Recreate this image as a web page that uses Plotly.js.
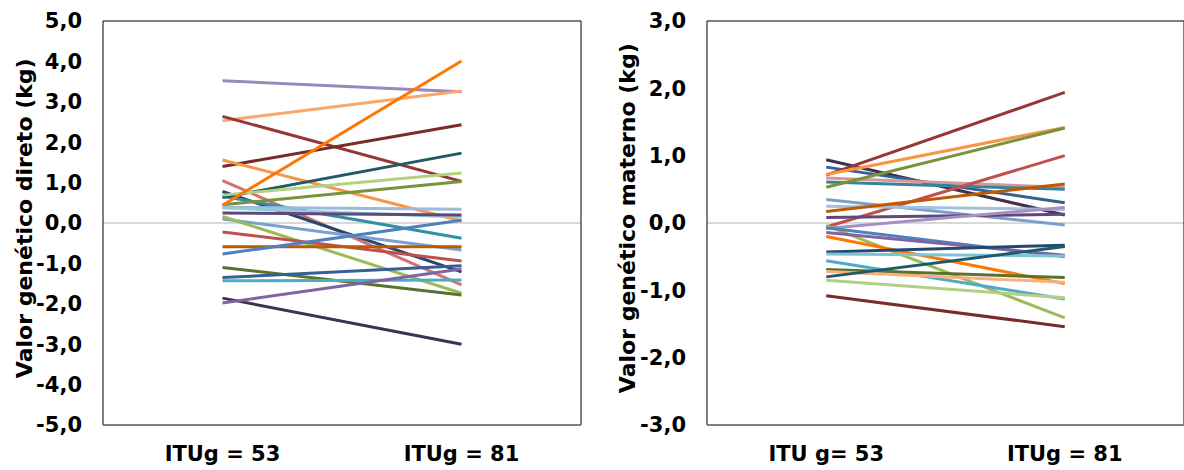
<!DOCTYPE html>
<html>
<head>
<meta charset="utf-8">
<script src="https://cdn.plot.ly/plotly-3.0.1.min.js"></script>
<style>html,body{margin:0;padding:0;background:#fff;overflow:hidden}#chart{width:1184px;height:470px}</style>
</head>
<body>
<div id="chart"></div>
<script>
// ---- data ----
const directCategories = ['ITUg = 53', 'ITUg = 81'];
const maternalCategories = ['ITU g= 53', 'ITUg = 81'];
const directStart = [3.52, 2.53, 2.64, 1.40, 1.56, 1.05, 0.78, 0.66, 0.63, 0.69, 0.45, 0.44, 0.39, 0.37, 0.25, 0.10, 0.16, -0.22, -0.59, -0.77, -1.10, -1.35, -1.43, -1.86, -1.98];
const directEnd   = [3.25, 3.27, 1.03, 2.43, 0.05, -1.53, -1.21, -0.38, 1.73, 1.24, 1.03, 4.01, 0.34, 0.15, 0.20, -0.67, -1.74, -0.94, -0.59, 0.07, -1.78, -1.06, -1.41, -3.00, -1.14];
const maternalStart = [0.94, 0.83, 0.71, 0.72, 0.67, 0.61, 0.53, -0.06, 0.35, 0.25, 0.17, 0.08, -0.08, -0.04, -0.07, -0.14, -0.20, -0.43, -0.46, -0.56, -0.69, -0.72, -0.80, -0.85, -1.08];
const maternalEnd   = [0.12, 0.30, 1.94, 1.42, 0.53, 0.50, 1.41, 1.00, -0.03, 0.20, 0.58, 0.13, 0.23, -1.41, -0.50, -0.48, -0.90, -0.33, -0.49, -1.13, -0.81, -0.88, -0.35, -1.11, -1.54];
const directTicks = [-5, -4, -3, -2, -1, 0, 1, 2, 3, 4, 5];
const maternalTicks = [-3, -2, -1, 0, 1, 2, 3];
const directTitle = 'Valor genético direto (kg)';
const maternalTitle = 'Valor genético materno (kg)';

// ---- styles ----
const directColors = ['#9B87C0', '#FBA66A', '#953735', '#772C2A', '#F79646', '#D37272', '#254870', '#3190A8', '#215968', '#B3D17F', '#77933C', '#FF7700', '#9DB9DC', '#93CDDD', '#5F497A', '#7AA0D0', '#9BBB59', '#C0504D', '#C05800', '#4F81BD', '#5A7230', '#366092', '#4BACC6', '#403151', '#8064A2'];
const maternalColors = ['#403151', '#366092', '#953735', '#F79646', '#D99694', '#31859C', '#77933C', '#C0504D', '#7BA0CF', '#A6BFDD', '#C05800', '#5F497A', '#A491C4', '#9BBB59', '#4F81BD', '#8064A2', '#FF7700', '#254870', '#7CC3D6', '#4BACC6', '#5A7230', '#FAB07A', '#215968', '#B3CF86', '#772C2A'];

const traces = [];
directStart.forEach((s, i) => {
  traces.push({type: 'scatter', mode: 'lines', x: directCategories, y: [s, directEnd[i]],
    xaxis: 'x', yaxis: 'y', line: {color: directColors[i], width: 3}, showlegend: false, hoverinfo: 'y'});
});
maternalStart.forEach((s, i) => {
  traces.push({type: 'scatter', mode: 'lines', x: maternalCategories, y: [s, maternalEnd[i]],
    xaxis: 'x2', yaxis: 'y2', line: {color: maternalColors[i], width: 3}, showlegend: false, hoverinfo: 'y'});
});

const tickFont = {family: 'DejaVu Sans, Liberation Sans, Arial, sans-serif', size: 21, color: '#000', weight: 'bold'};
const titleFont = {family: 'DejaVu Sans, Liberation Sans, Arial, sans-serif', size: 22, color: '#000', weight: 'bold'};
const fmt = v => v.toFixed(1).replace('.', ',');
function xax(cats, domain, anchor) {
  return {domain: domain, anchor: anchor, type: 'category', categoryarray: cats, range: [-0.5, 1.5],
    showgrid: false, zeroline: false, showline: false, ticks: '', tickfont: tickFont, ticklabelstandoff: 14, fixedrange: true};
}
function yax(ticks, anchor) {
  return {anchor: anchor, domain: [0, 1], range: [ticks[0], ticks[ticks.length - 1]], tickvals: ticks,
    ticktext: ticks.map(fmt), showgrid: false, zeroline: true, zerolinecolor: '#D9D9D9', zerolinewidth: 1.5,
    showline: false, ticks: '', tickfont: tickFont, ticklabelstandoff: 20, fixedrange: true};
}
function frame(xr, yr) {
  return [
    {type: 'rect', xref: xr + ' domain', yref: yr + ' domain', x0: 0, x1: 1, y0: 0, y1: 1, line: {color: '#000', width: 1}, layer: 'above'},
    {type: 'line', xref: xr + ' domain', yref: yr + ' domain', x0: 0, x1: 1, y0: 0, y1: 0, line: {color: '#808080', width: 1.5}, layer: 'above'}
  ];
}

const layout = {
  width: 1184, height: 470,
  margin: {l: 0, r: 0, t: 21, b: 45},
  paper_bgcolor: '#fff', plot_bgcolor: '#fff',
  font: tickFont,
  xaxis: xax(directCategories, [103 / 1184, 581 / 1184], 'y'),
  yaxis: yax(directTicks, 'x'),
  xaxis2: xax(maternalCategories, [707 / 1184, 1], 'y2'),
  yaxis2: yax(maternalTicks, 'x2'),
  shapes: frame('x', 'y').concat(frame('x2', 'y2')),
  annotations: [
    {text: directTitle, xref: 'paper', yref: 'paper', x: 24 / 1184, y: 0.512, textangle: -90,
      xanchor: 'center', yanchor: 'middle', showarrow: false, font: titleFont},
    {text: maternalTitle, xref: 'paper', yref: 'paper', x: 627 / 1184, y: 0.512, textangle: -90,
      xanchor: 'center', yanchor: 'middle', showarrow: false, font: titleFont}
  ],
  showlegend: false
};

Plotly.newPlot('chart', traces, layout, {displayModeBar: false, staticPlot: true});
</script>
</body>
</html>
